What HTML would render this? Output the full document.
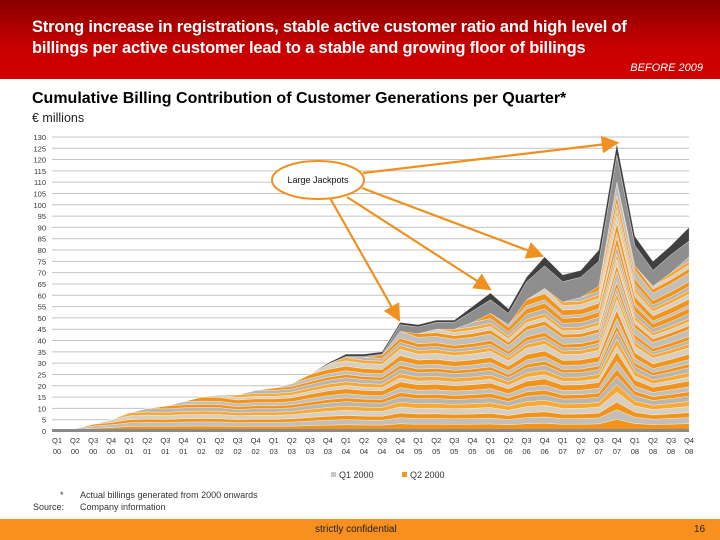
<!DOCTYPE html>
<html><head><meta charset="utf-8"><style>
body{margin:0;width:720px;height:540px;overflow:hidden;background:#fff;font-family:"Liberation Sans",sans-serif;position:relative}
.hdr{position:absolute;left:0;top:0;width:720px;height:79px;background:linear-gradient(#8a0000,#c80000 60%,#d20000)}
.t1{position:absolute;left:32px;top:17px;color:#fff;font-weight:bold;font-size:16.5px;line-height:21px;letter-spacing:-0.2px}
.bef{position:absolute;right:17px;top:62px;color:#fff;font-style:italic;font-size:11px}
.sub{position:absolute;left:32px;top:90px;font-weight:bold;font-size:16px}
.unit{position:absolute;left:32px;top:111px;font-size:12.5px;color:#222}
.ft{position:absolute;left:0;top:519px;width:720px;height:21px;background:#f7901e}
</style></head><body>
<div class="hdr"></div>
<div class="t1">Strong increase in registrations, stable active customer ratio and high level of<br>billings per active customer lead to a stable and growing floor of billings</div>
<div class="bef">BEFORE 2009</div>
<div class="sub">Cumulative Billing Contribution of Customer Generations per Quarter*</div>
<div class="unit">€ millions</div>
<svg id="ch" width="720" height="540" style="position:absolute;left:0;top:0"></svg>
<div style="position:absolute;left:60px;top:490px;font-size:9px;color:#333">*</div>
<div style="position:absolute;left:80px;top:490px;font-size:9px;color:#333">Actual billings generated from 2000 onwards</div>
<div style="position:absolute;left:33px;top:502px;font-size:9px;color:#333">Source:</div>
<div style="position:absolute;left:80px;top:502px;font-size:9px;color:#333">Company information</div>
<div class="ft"></div>
<div style="position:absolute;left:315px;top:524px;font-size:10px;color:#222">strictly confidential</div>
<div style="position:absolute;left:694px;top:524px;font-size:10px;color:#222">16</div>
<script>
const quarters=["Q1","Q2","Q3","Q4","Q1","Q2","Q3","Q4","Q1","Q2","Q3","Q4","Q1","Q2","Q3","Q4","Q1","Q2","Q3","Q4","Q1","Q2","Q3","Q4","Q1","Q2","Q3","Q4","Q1","Q2","Q3","Q4","Q1","Q2","Q3","Q4"];
const years=["00","00","00","00","01","01","01","01","02","02","02","02","03","03","03","03","04","04","04","04","05","05","05","05","06","06","06","06","07","07","07","07","08","08","08","08"];
const baseValues=[0,1,3,5,8,10,11,13,15,16,16,18,19,21,25,29.5,32.5,32.5,33.5,44,43,45,45,48,52,47,58,63,57,59,64,110,73,64,70,77];
const greyTop=[0,0,0,0,0,0,0,0,0,0,0,0,0,0,0,0,0.5,0.5,0.5,3,3,3,3,5,6,5,8,10,9,9,11,12,9,7,8,7];
const darkTop=[0,0,0,0,0,0,0,0,0,0,0,0,0,0,0,0.5,1,1,1,1,1,1,1,2,3,2,2,4,3,3,5,5,4,4,4,6];
const genWeights=[3,2.5,2,2.5,2,2.2,1.8,2,2.4,1.6,1.8,2,1.5,1.8,2.2,2.6,1.6,1.4,1.6,2.8,1.6,1.5,1.4,2,2.2,1.3,2.4,2,1.5,1.6,2,3.5,1.8,1.4,1.6,1.8];
const yTicks=[0,5,10,15,20,25,30,35,40,45,50,55,60,65,70,75,80,85,90,95,100,105,110,115,120,125,130];
const NS="http://www.w3.org/2000/svg",svg=document.getElementById('ch');
const X=q=>57+q*18.06, Y=v=>431-v*2.262;
function mk(t,a){const e=document.createElementNS(NS,t);for(const k in a)e.setAttribute(k,a[k]);svg.appendChild(e);return e;}
yTicks.forEach(v=>{
 const l=mk('line',{x1:52,x2:689,y1:Y(v),y2:Y(v),stroke:'#c4c4c4','stroke-width':1});
 
 
 const t=mk('text',{x:46,y:Y(v)+3,'font-size':7.5,'text-anchor':'end',fill:'#333'});t.textContent=v;
 
 
});
const pal=['#f3941a','#c2beb8','#f3941a','#d6cfc2','#f7a935','#b9b5af'];
const n=quarters.length;
let cum=new Array(n).fill(0);
function band(vals,color,name,start){
 let top=[],bot=[];
 for(let q=start;q<n;q++){bot.push([X(q),Y(cum[q])]);cum[q]+=vals[q];top.push([X(q),Y(cum[q])]);}
 const pts=top.concat(bot.reverse()).map(p=>p.join(',')).join(' ');
 const p=mk('polygon',{points:pts,fill:color,stroke:'#fff','stroke-width':0.3});
 
 
}
for(let g=0;g<n;g++){
 const vals=baseValues.map((b,q)=>{if(q<g)return 0;let W=0;for(let h=0;h<=q;h++)W+=genWeights[h];return b*genWeights[g]/W;});
 band(vals,pal[g%pal.length],'generation-band',Math.max(0,g-1));
}
band(greyTop,'#8e8e8e','grey-top-band',0);
band(darkTop,'#404040','dark-top-band',0);
mk('rect',{x:52,y:429,width:637,height:3,fill:'#8a8a8a'});
quarters.forEach((qq,i)=>{
 const t=mk('text',{x:X(i),y:443,'font-size':7.5,'text-anchor':'middle',fill:'#333'});t.textContent=qq;
 
 
 const t2=mk('text',{x:X(i),y:454,'font-size':7.5,'text-anchor':'middle',fill:'#333'});t2.textContent=years[i];
 
 
});
const defs=mk('defs',{});
defs.innerHTML='<marker id="ar" markerWidth="8" markerHeight="8" refX="6" refY="4" orient="auto"><path d="M0,0 L8,4 L0,8 z" fill="#f0901e"/></marker>';
[[330,198,398,318],[347,197,488,288],[362,188,540,255],[363,173,615,143]].forEach(a=>{
 const l=mk('line',{x1:a[0],y1:a[1],x2:a[2],y2:a[3],stroke:'#f0901e','stroke-width':2.2,'marker-end':'url(#ar)'});
 
 
});
const el=mk('ellipse',{cx:318,cy:180,rx:46,ry:19,fill:'#fff',stroke:'#f0901e','stroke-width':2});


const ct=mk('text',{x:318,y:183,'font-size':9,'text-anchor':'middle',fill:'#111'});ct.textContent='Large Jackpots';


[[331,'#c8c4be','Q1 2000'],[402,'#f39a1e','Q2 2000']].forEach(l=>{
 const r=mk('rect',{x:l[0],y:472,width:5,height:5,fill:l[1]});
 
 
 const t=mk('text',{x:l[0]+8,y:478,'font-size':9,fill:'#333'});t.textContent=l[2];
 
 
});
</script>
</body></html>
